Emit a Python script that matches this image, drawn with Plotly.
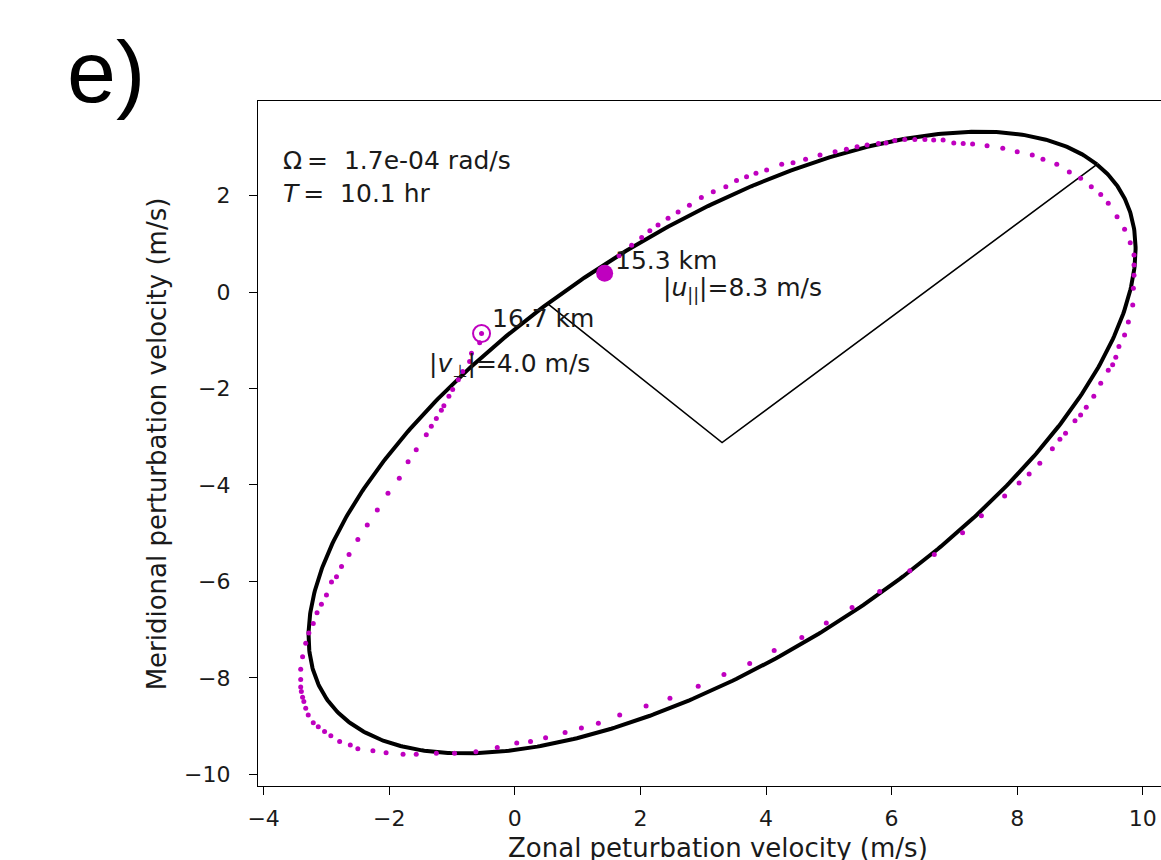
import numpy as np
import plotly.graph_objects as go

# Observed hodograph (zonal u, meridional v perturbation, m/s), from 15.3 km up to 16.7 km
u_obs = [1.43, 1.66, 1.86, 2.02, 2.15, 2.28, 2.44, 2.60, 2.78, 2.97, 3.16, 3.36, 3.53, 3.69, 3.84,
         4.01, 4.25, 4.43, 4.63, 4.86, 5.10, 5.28, 5.45, 5.61, 5.79, 5.91, 6.05, 6.21, 6.37, 6.53,
         6.67, 6.82, 6.99, 7.14, 7.29, 7.52, 7.77, 8.00, 8.24, 8.41, 8.63, 8.83, 9.01, 9.18, 9.33,
         9.45, 9.59, 9.71, 9.80, 9.86, 9.86, 9.86, 9.85, 9.84, 9.77, 9.71, 9.62, 9.57, 9.52, 9.45,
         9.33, 9.22, 9.10, 9.01, 8.92, 8.77, 8.68, 8.56, 8.36, 8.19, 8.03, 7.80, 7.43, 7.13, 6.68,
         6.29, 5.81, 5.37, 4.96, 4.57, 4.13, 3.74, 3.33, 2.92, 2.47, 2.09, 1.67, 1.33, 1.06, 0.80,
         0.49, 0.25, 0.03, -0.28, -0.62, -0.96, -1.25, -1.57, -1.78, -2.05, -2.26, -2.50, -2.62,
         -2.79, -2.93, -3.03, -3.13, -3.21, -3.29, -3.33, -3.36, -3.38, -3.40, -3.41, -3.41, -3.41,
         -3.38, -3.33, -3.28, -3.21, -3.15, -3.08, -3.00, -2.92, -2.84, -2.76, -2.64, -2.50, -2.35,
         -2.19, -2.02, -1.84, -1.70, -1.57, -1.41, -1.33, -1.25, -1.17, -1.13, -1.05, -0.99, -0.90,
         -0.83, -0.72, -0.69, -0.56, -0.53]
v_obs = [0.39, 0.75, 0.97, 1.13, 1.27, 1.39, 1.53, 1.66, 1.80, 1.96, 2.08, 2.18, 2.31, 2.39, 2.46,
         2.53, 2.65, 2.68, 2.75, 2.84, 2.91, 2.96, 3.01, 3.05, 3.08, 3.09, 3.14, 3.16, 3.16, 3.16,
         3.15, 3.15, 3.09, 3.08, 3.07, 3.03, 2.98, 2.91, 2.84, 2.75, 2.65, 2.49, 2.36, 2.18, 2.02,
         1.84, 1.56, 1.30, 1.02, 0.77, 0.56, 0.35, 0.08, -0.27, -0.62, -0.89, -1.13, -1.35, -1.51,
         -1.62, -1.89, -2.16, -2.39, -2.55, -2.67, -2.93, -3.05, -3.25, -3.55, -3.77, -3.96, -4.23,
         -4.64, -4.99, -5.44, -5.78, -6.21, -6.54, -6.86, -7.16, -7.43, -7.70, -7.93, -8.17, -8.42,
         -8.58, -8.77, -8.94, -9.04, -9.13, -9.24, -9.32, -9.35, -9.44, -9.53, -9.56, -9.56, -9.58,
         -9.58, -9.55, -9.51, -9.47, -9.39, -9.32, -9.20, -9.11, -9.01, -8.93, -8.77, -8.63, -8.49,
         -8.40, -8.28, -8.19, -8.03, -7.82, -7.56, -7.28, -7.07, -6.87, -6.65, -6.47, -6.28, -6.01,
         -5.90, -5.69, -5.44, -5.13, -4.83, -4.52, -4.17, -3.86, -3.52, -3.27, -2.96, -2.78, -2.62,
         -2.45, -2.36, -2.16, -2.02, -1.82, -1.65, -1.44, -1.27, -1.05, -0.86]

# Altitude labels for the two ends of the profile
z_bottom_km = 15.3
z_top_km = 16.7

# Fitted polarisation ellipse
ell_center = (3.30, -3.12)     # m/s
u_parallel = 8.3               # semi-major axis, m/s
v_perp = 4.0                   # semi-minor axis, m/s
orient_deg = 44.0              # orientation of the major axis
omega_rad_s = 1.7e-04
period_hr = 10.1

x_ticks = [-4, -2, 0, 2, 4, 6, 8, 10]
y_ticks = [-10, -8, -6, -4, -2, 0, 2]

MAGENTA = "#bf00bf"
FONT = "DejaVu Sans"

phi = np.deg2rad(orient_deg)
t = np.linspace(0, 2 * np.pi, 721)
cx, cy = ell_center
ell_u = cx + u_parallel * np.cos(phi) * np.cos(t) - v_perp * np.sin(phi) * np.sin(t)
ell_v = cy + u_parallel * np.sin(phi) * np.cos(t) + v_perp * np.cos(phi) * np.sin(t)

major_end = (cx + u_parallel * np.cos(phi), cy + u_parallel * np.sin(phi))
minor_end = (cx - v_perp * np.sin(phi), cy + v_perp * np.cos(phi))

fig = go.Figure()

fig.add_trace(go.Scatter(x=ell_u, y=ell_v, mode="lines",
                         line=dict(color="black", width=4), hoverinfo="skip"))
# semi-minor and semi-major axes drawn from the centre
fig.add_trace(go.Scatter(x=[minor_end[0], cx, major_end[0]],
                         y=[minor_end[1], cy, major_end[1]], mode="lines",
                         line=dict(color="black", width=1.6), hoverinfo="skip"))
fig.add_trace(go.Scatter(x=u_obs, y=v_obs, mode="markers",
                         marker=dict(color=MAGENTA, size=5, line=dict(width=0))))
fig.add_trace(go.Scatter(x=[u_obs[0]], y=[v_obs[0]], mode="markers",
                         marker=dict(color=MAGENTA, size=17, line=dict(width=0))))
fig.add_trace(go.Scatter(x=[u_obs[-1]], y=[v_obs[-1]], mode="markers",
                         marker=dict(color=MAGENTA, size=17, symbol="circle-open-dot",
                                     line=dict(width=2, color=MAGENTA))))

txt_font = dict(family=FONT, size=25, color="#1a1a1a")
annots = [
    dict(x=u_obs[0] + 0.13, y=v_obs[0] + 0.27, text=f"{z_bottom_km} km"),
    dict(x=2.33, y=0.06, text=f"|<i>u</i><sub>||</sub>|={u_parallel} m/s"),
    dict(x=u_obs[-1] + 0.14, y=v_obs[-1] + 0.32, text=f"{z_top_km} km"),
    dict(x=-1.40, y=-1.51, text=f"|<i>v</i><sub>⊥</sub>|={v_perp} m/s"),
]
for a in annots:
    fig.add_annotation(xref="x", yref="y", xanchor="left", yanchor="middle",
                       showarrow=False, font=txt_font, **a)

fig.add_annotation(xref="x", yref="y", x=-3.72, y=2.72, xanchor="left", yanchor="middle",
                   showarrow=False, font=txt_font,
                   text=f"Ω\u2009=\u00a0\u00a0{omega_rad_s:.1e} rad/s")
fig.add_annotation(xref="x", yref="y", x=-3.72, y=2.05, xanchor="left", yanchor="middle",
                   showarrow=False, font=txt_font,
                   text=f"<i>T</i>\u2009=\u00a0\u00a0{period_hr} hr")

# axis titles
title_font = dict(family=FONT, size=26, color="#1a1a1a")
fig.add_annotation(xref="paper", yref="paper", x=0.509, y=-0.091, xanchor="center",
                   yanchor="middle", showarrow=False, font=title_font,
                   text="Zonal peturbation velocity (m/s)")
fig.add_annotation(xref="paper", yref="paper", x=-0.112, y=0.5, xanchor="center",
                   yanchor="middle", showarrow=False, font=title_font, textangle=-90,
                   text="Meridional perturbation velocity (m/s)")
# panel letter
fig.add_annotation(xref="paper", yref="paper", x=-0.214, y=1.043, xanchor="left",
                   yanchor="middle", showarrow=False,
                   font=dict(family="Liberation Sans", size=88, color="black"), text="e)")

axis_common = dict(showgrid=False, zeroline=False, showline=True, linecolor="black",
                   linewidth=1.4, ticks="outside", ticklen=8, tickwidth=1.4,
                   tickcolor="black",
                   tickfont=dict(family=FONT, size=22, color="#1a1a1a"))
fig.update_xaxes(range=[-4.09, 10.29], tickvals=x_ticks, mirror=True,
                 ticklabelstandoff=4, **axis_common)
fig.update_yaxes(range=[-10.24, 3.96], tickvals=y_ticks, mirror=False,
                 ticklabelstandoff=14, **axis_common)

fig.update_layout(width=1161, height=860, showlegend=False,
                  margin=dict(l=258, r=0, t=101, b=74),
                  paper_bgcolor="white", plot_bgcolor="white")

fig.write_html("out.html")
